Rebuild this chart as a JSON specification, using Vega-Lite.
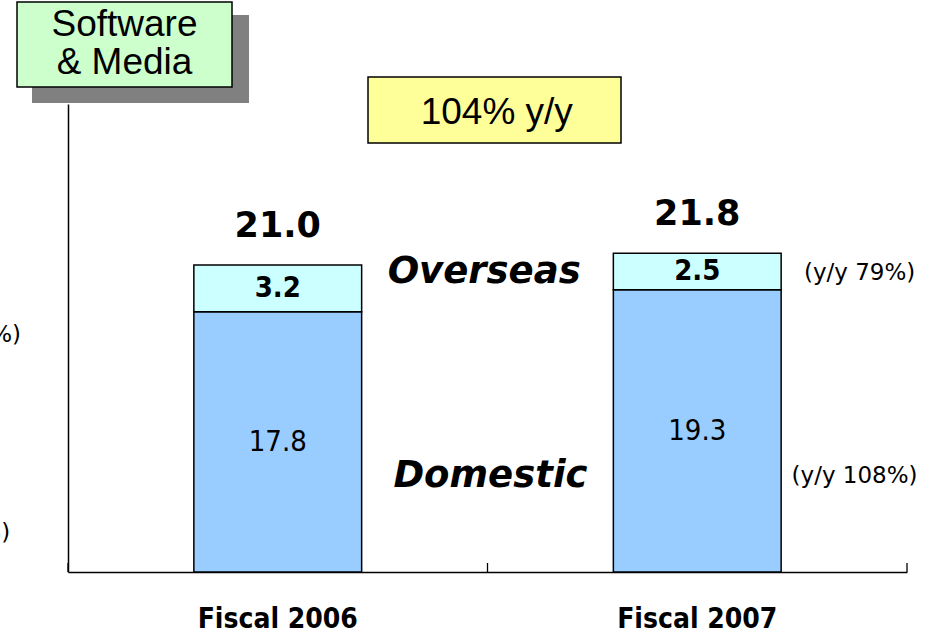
{
  "$schema": "https://vega.github.io/schema/vega-lite/v6.json",
  "width": 839,
  "height": 468,
  "autosize": {"type": "none"},
  "padding": {"left": 68, "top": 104, "right": 29, "bottom": 63},
  "background": "white",
  "config": {"view": {"stroke": null}},
  "datasets": {
    "sales": [
      {"year": "Fiscal 2006", "region": "Domestic", "value": 17.8, "rank": 1},
      {"year": "Fiscal 2006", "region": "Overseas", "value": 3.2, "rank": 2},
      {"year": "Fiscal 2007", "region": "Domestic", "value": 19.3, "rank": 1},
      {"year": "Fiscal 2007", "region": "Overseas", "value": 2.5, "rank": 2}
    ],
    "totals": [
      {"year": "Fiscal 2006", "total": 21.0},
      {"year": "Fiscal 2007", "total": 21.8}
    ],
    "notes": [
      {"ax": 0.992, "v": 19.76, "label": "Overseas", "kind": "region"},
      {"ax": 1.007, "v": 5.81, "label": "Domestic", "kind": "region"},
      {"ax": 1.887, "v": 19.97, "label": "(y/y 79%)", "kind": "growth"},
      {"ax": 1.875, "v": 6.09, "label": "(y/y 108%)", "kind": "growth"},
      {"ax": -0.262, "v": 15.73, "label": "(y/y 118%)", "kind": "growth"},
      {"ax": -0.288, "v": 2.19, "label": "(y/y 104%)", "kind": "growth"}
    ],
    "boxes": [
      {"ax": 0.1728, "v": 35.08, "name": "shadow"},
      {"ax": 0.1347, "v": 36.07, "name": "segment"},
      {"ax": 1.0167, "v": 31.59, "name": "growth"}
    ],
    "boxtext": [
      {"ax": 0.1347, "v": 36.65, "name": "segment", "label": "Software\n& Media"},
      {"ax": 1.0221, "v": 30.63, "name": "growth", "label": "104% y/y"}
    ],
    "axisticks": [
      {"ax": 0, "v": 0.308},
      {"ax": 1, "v": 0.308},
      {"ax": 2, "v": 0.308}
    ]
  },
  "layer": [
    {
      "layer": [
        {
          "data": {"name": "sales"},
          "mark": {"type": "bar", "stroke": "#000000", "strokeWidth": 1.5},
          "encoding": {
            "x": {
              "field": "year", "type": "nominal",
              "scale": {"paddingInner": 0.6, "paddingOuter": 0.3},
              "axis": {
                "title": null, "domain": true, "domainColor": "#000000", "domainWidth": 1.5,
                "ticks": false, "labelAngle": 0,
                "labelFont": "DejaVu Sans Condensed", "labelFontWeight": "bold", "labelFontSize": 28,
                "labelColor": "#000000", "labelPadding": 33, "grid": false
              }
            },
            "y": {
              "field": "value", "type": "quantitative", "stack": "zero",
              "scale": {"domain": [0, 32], "nice": false},
              "axis": {"title": null, "labels": false, "ticks": false, "grid": false, "domain": true, "domainColor": "#000000", "domainWidth": 1.5}
            },
            "color": {
              "field": "region", "type": "nominal",
              "scale": {"domain": ["Domestic", "Overseas"], "range": ["#99CCFF", "#CCFFFF"]},
              "legend": null
            },
            "order": {"field": "rank", "type": "quantitative"}
          }
        },
        {
          "data": {"name": "sales"},
          "transform": [
            {"stack": "value", "groupby": ["year"], "sort": [{"field": "rank"}], "as": ["y0", "y1"]},
            {"calculate": "(datum.y0 + datum.y1) / 2", "as": "mid"},
            {"filter": "datum.region === 'Domestic'"}
          ],
          "mark": {"type": "text", "font": "DejaVu Sans Condensed", "fontSize": 29, "baseline": "middle", "color": "#000000"},
          "encoding": {
            "x": {"field": "year", "type": "nominal"},
            "y": {"field": "mid", "type": "quantitative"},
            "text": {"field": "value", "type": "quantitative", "format": ".1f"}
          }
        },
        {
          "data": {"name": "sales"},
          "transform": [
            {"stack": "value", "groupby": ["year"], "sort": [{"field": "rank"}], "as": ["y0", "y1"]},
            {"calculate": "(datum.y0 + datum.y1) / 2", "as": "mid"},
            {"filter": "datum.region === 'Overseas'"}
          ],
          "mark": {"type": "text", "font": "DejaVu Sans Condensed", "fontWeight": "bold", "fontSize": 29, "baseline": "middle", "color": "#000000"},
          "encoding": {
            "x": {"field": "year", "type": "nominal"},
            "y": {"field": "mid", "type": "quantitative"},
            "text": {"field": "value", "type": "quantitative", "format": ".1f"}
          }
        },
        {
          "data": {"name": "totals"},
          "mark": {"type": "text", "font": "DejaVu Sans", "fontWeight": "bold", "fontSize": 35, "baseline": "alphabetic", "dy": -28, "color": "#000000"},
          "encoding": {
            "x": {"field": "year", "type": "nominal"},
            "y": {"field": "total", "type": "quantitative"},
            "text": {"field": "total", "type": "quantitative", "format": ".1f"}
          }
        }
      ]
    },
    {
      "layer": [
        {
          "data": {"name": "axisticks"},
          "mark": {"type": "tick", "orient": "vertical", "size": 9, "thickness": 1.3, "color": "#000000", "opacity": 1},
          "encoding": {
            "x": {"field": "ax", "type": "quantitative", "scale": {"domain": [0, 2], "nice": false, "zero": false}, "axis": null},
            "y": {"field": "v", "type": "quantitative", "scale": {"domain": [0, 32], "nice": false, "zero": false}, "axis": null}
          }
        },
        {
          "data": {"name": "boxes"},
          "transform": [{"filter": "datum.name === 'shadow'"}],
          "mark": {"type": "rect", "width": 217, "height": 88, "fill": "#808080", "stroke": null},
          "encoding": {
            "x": {"field": "ax", "type": "quantitative"},
            "y": {"field": "v", "type": "quantitative"}
          }
        },
        {
          "data": {"name": "boxes"},
          "transform": [{"filter": "datum.name === 'segment'"}],
          "mark": {"type": "rect", "width": 215, "height": 85, "fill": "#CCFFCC", "stroke": "#000000", "strokeWidth": 1.5},
          "encoding": {
            "x": {"field": "ax", "type": "quantitative"},
            "y": {"field": "v", "type": "quantitative"}
          }
        },
        {
          "data": {"name": "boxes"},
          "transform": [{"filter": "datum.name === 'growth'"}],
          "mark": {"type": "rect", "width": 253, "height": 66, "fill": "#FFFF99", "stroke": "#000000", "strokeWidth": 1.5},
          "encoding": {
            "x": {"field": "ax", "type": "quantitative"},
            "y": {"field": "v", "type": "quantitative"}
          }
        },
        {
          "data": {"name": "boxtext"},
          "mark": {"type": "text", "font": "Liberation Sans", "fontSize": 37, "baseline": "alphabetic", "lineBreak": "\n", "lineHeight": 38, "color": "#000000"},
          "encoding": {
            "x": {"field": "ax", "type": "quantitative"},
            "y": {"field": "v", "type": "quantitative"},
            "text": {"field": "label"}
          }
        },
        {
          "data": {"name": "notes"},
          "transform": [{"filter": "datum.kind === 'region'"}],
          "mark": {"type": "text", "font": "DejaVu Sans", "fontWeight": "bold", "fontStyle": "italic", "fontSize": 37, "baseline": "alphabetic", "color": "#000000"},
          "encoding": {
            "x": {"field": "ax", "type": "quantitative"},
            "y": {"field": "v", "type": "quantitative"},
            "text": {"field": "label"}
          }
        },
        {
          "data": {"name": "notes"},
          "transform": [{"filter": "datum.kind === 'growth'"}],
          "mark": {"type": "text", "font": "DejaVu Sans", "fontSize": 23, "baseline": "alphabetic", "color": "#000000"},
          "encoding": {
            "x": {"field": "ax", "type": "quantitative"},
            "y": {"field": "v", "type": "quantitative"},
            "text": {"field": "label"}
          }
        }
      ]
    }
  ],
  "resolve": {"scale": {"x": "independent", "y": "independent"}}
}
